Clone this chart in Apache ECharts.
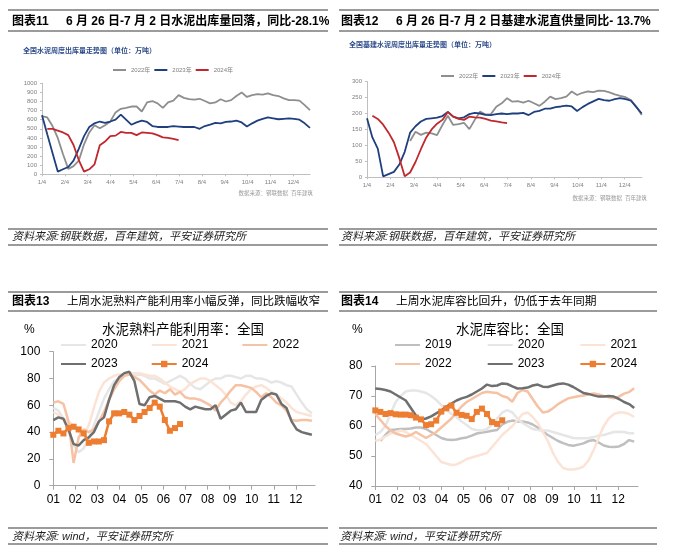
<!DOCTYPE html>
<html><head><meta charset="utf-8">
<script src="https://cdn.jsdelivr.net/npm/echarts@6/dist/echarts.min.js"></script>
<style>html,body{margin:0;padding:0;background:#fff}#c{width:674px;height:553px}</style>
</head><body><div id="c"></div>
<script>
// ---------- data ----------
const WEEK = 7 / 30.44; // one week in month units (x axis is in months)
const monthTicks = [0,1,2,3,4,5,6,7,8,9,10,11];
const dateLabels = ['1/4','2/4','3/4','4/4','5/4','6/4','7/4','8/4','9/4','10/4','11/4','12/4'];
const monthLabels = ['01','02','03','04','05','06','07','08','09','10','11','12'];
const c11YTicks = [0, 1000, 100];
const c12YTicks = [0, 300, 50];
const c13YTicks = [0, 100, 20];
const c14YTicks = [40, 80, 10];

// 图表11 全国水泥周度出库量（万吨）
const c11_2022 = [640,625,530,400,220,60,90,150,330,460,540,505,540,580,680,720,730,745,745,690,790,805,780,730,790,810,870,840,825,820,830,805,780,790,825,800,815,860,900,850,870,880,875,890,870,860,835,815,815,810,760,705];
const c11_2023 = [650,440,235,30,55,80,150,280,420,520,560,580,565,580,600,655,600,545,570,590,575,530,520,520,520,530,525,520,520,520,500,530,545,565,560,575,580,590,570,525,560,590,610,625,615,605,610,615,610,600,560,510];
const c11_2024 = [null,500,500,480,460,430,322,157,30,55,110,320,360,420,425,465,455,455,430,460,455,450,430,405,400,390,375];

// 图表12 全国基建水泥周度出库量（万吨）
const c12_2022 = [null,null,null,null,null,null,null,null,114,143,133,140,138,132,164,193,164,167,171,151,180,206,197,198,221,232,248,237,239,234,240,232,224,237,253,245,248,253,269,258,265,269,267,272,271,266,260,255,251,242,221,195];
const c12_2023 = [185,125,90,3,10,17,40,80,140,160,175,183,185,187,192,205,190,185,188,198,202,200,196,195,198,200,198,200,200,202,195,205,208,215,215,220,222,225,222,208,220,230,238,246,242,240,245,248,245,240,220,200];
const c12_2024 = [null,193,183,165,140,110,60,3,15,48,88,125,150,168,180,205,190,183,180,190,188,187,183,178,175,172,170];

// 图表13 水泥熟料产能利用率：全国（%）
const c13_2020 = [58,56,50,40,30,25,28,35,45,55,65,72,78,80,82,83,82,83,82,80,80,78,76,78,80,82,80,76,73,72,75,78,80,80,82,82,81,80,82,82,80,80,79,77,78,77,75,74,68,62,57,54];
const c13_2021 = [55,53,50,48,45,40,38,45,58,70,77,80,82,83,83,84,84,84,83,82,82,80,77,74,72,70,72,76,78,80,80,78,75,72,68,62,60,63,68,72,74,75,73,70,68,65,62,58,55,54,53,52];
const c13_2022 = [62,63,61,48,17,36,42,40,42,48,55,64,72,78,82,83,81,79,75,71,68,71,69,72,68,70,66,65,65,64,62,60,56,62,66,71,75,75,74,73,70,66,69,66,62,60,56,49,48.5,49,49,48.5];
const c13_2023 = [49,51,50,42,31,30,34,36,40,48,51,64,75,81,84,85,78,61,60,66,67,65,63,63,63,62,59,57,59,58,57,57,60,50,53,56,57,62,55,55,55,64,67,69,68,61,58,48,42,40,39,38];
const c13_2024 = [38,41,39,43,44,42,39,32,33,33,34,48,54,54,55,53,49,52,55,58,62,59,49,41,43,46];

// 图表14 水泥库容比：全国（%）
const c14_2019 = [null,55,57,58.7,58.8,59,59,59.2,59.5,59.5,59,58,57,56,55.5,55.3,55.5,55.9,56.2,56.8,57.5,57.8,58.1,58.4,58.7,60.5,61.4,61.8,61.5,61.5,61.2,60.5,59.5,58.2,57,56,55,54.3,53.7,53.4,53.8,54.2,55,55.3,54.5,53.5,53.1,53,53.2,54,55.3,54.8];
const c14_2020 = [57,58,60,64,68,70,71.5,71.8,71.8,71.5,71,70,68.7,67,65.3,64,63,61.5,60.3,59,58.7,58.5,59,60.5,62.5,64.5,65.3,64.5,62.5,61,60,59,58.7,58.5,58.5,58,57.5,57,56.5,56,55.9,55.9,56,56.3,56.8,57,57.5,58,58.1,58,57.6,57.6];
const c14_2021 = [55,55.5,56.5,57.5,58,58.5,58,57,56,55,54,52,50,48,47.5,47,47.2,48,49,49.5,50,50.5,51,53,55,57,58.5,60,62,64,64.5,63,61,58,55,51,48,46,45.5,45.5,45.8,46.5,48.5,52,56,60,62.5,64,64.5,64.5,64,63];
const c14_2022 = [64,62,60,58.5,57.5,57,56.5,57,58,57,56,57,58,59.5,61,62.5,64.5,66.5,68,69,70,71,71.4,71.2,71,70,69.5,68.1,71,72,71.5,69,66.5,64.5,64.8,65.9,67.3,68.3,69.2,69.6,69.9,70.2,70.5,70.8,70.5,70,69.6,69.2,69.8,70.8,71.3,72.6];
const c14_2023 = [72.5,72.3,72,71.5,70.5,69.5,68.5,66,63.5,62.2,62.5,63.2,64.2,65.2,66.5,67.5,68.5,69.2,69.7,70.5,71.5,72.5,73.8,73.3,73.5,74.2,74,73.2,72.5,72.6,72.8,73.5,73.8,73.1,73,73.5,74,74.2,73.8,73,72,71,70.7,70.2,69.8,69.8,70,69.8,69,68,67.3,66];
const c14_2024 = [65.2,64.7,64.0,64.3,63.9,63.8,63.8,63.6,62.8,62.2,60.3,60.6,61.8,64.8,65.9,66.8,64.4,63.7,63.4,62.3,64.7,65.8,64.0,61.3,60.7,61.9];

// ---------- helpers ----------
const FF = '"Liberation Sans","Noto Sans CJK SC",sans-serif';
const pts = arr => arr.map((v, i) => v == null ? null : [i * WEEK, v]).filter(Boolean);

function xAx(gi, max, labels, fs, color, margin, tickLen, lineColor) {
  return {
    type: 'value', gridIndex: gi, min: 0, max: max,
    axisLine: { show: true, onZero: false, lineStyle: { color: lineColor, width: 1 } },
    axisTick: { show: true, customValues: monthTicks, length: tickLen, lineStyle: { color: lineColor } },
    axisLabel: { customValues: monthTicks, formatter: v => labels[Math.round(v)], fontSize: fs, color: color, margin: margin, fontFamily: FF },
    splitLine: { show: false }
  };
}
function yAx(gi, t, fs, color, margin, tickLen, lineColor) {
  return {
    type: 'value', gridIndex: gi, min: t[0], max: t[1], interval: t[2],
    axisLine: { show: true, lineStyle: { color: lineColor, width: 1 } },
    axisTick: { show: true, length: tickLen, lineStyle: { color: lineColor } },
    axisLabel: { fontSize: fs, color: color, margin: margin, fontFamily: FF, formatter: v => String(v) },
    splitLine: { show: false }
  };
}
function line(name, gi, arr, color, width, extra) {
  return Object.assign({
    name: name, type: 'line', xAxisIndex: gi, yAxisIndex: gi, data: pts(arr),
    symbol: 'none', smooth: false, animation: false,
    lineStyle: { color: color, width: width }, itemStyle: { color: color }
  }, extra || {});
}
const orangeSq = { symbol: 'rect', symbolSize: 6, showSymbol: true, showAllSymbol: true };

// ---------- graphics (headings, rules, sources) ----------
const G = [];
function rule(x1, x2, y) { G.push({ type: 'line', shape: { x1: x1, y1: y, x2: x2, y2: y }, style: { stroke: '#7a7a7a', lineWidth: 1.5 } }); }
function txt(t, x, y, o) {
  G.push({ type: 'text', x: x, y: y, style: Object.assign({ text: t, fontFamily: FF, fontSize: 12, fill: '#000', align: 'left', verticalAlign: 'middle' }, o || {}) });
}
// panel 11
rule(8, 328, 10); rule(8, 328, 31);
txt('图表11', 12, 22, { fontWeight: 'bold' });
txt('6 月 26 日-7 月 2 日水泥出库量回落，同比-28.1%', 66, 22, { fontWeight: 'bold' });
txt('全国水泥周度出库量走势图（单位：万吨）', 23, 51, { fontSize: 7, fontWeight: 'bold', fill: '#2E4C8C' });
txt('数据来源：钢联数据  百年建筑', 313, 193, { fontSize: 5.5, fill: '#9a9a9a', align: 'right' });
rule(8, 328, 229); rule(8, 328, 245);
txt('资料来源:钢联数据，百年建筑，平安证券研究所', 12, 237, { fontSize: 11, fontStyle: 'italic', fill: '#222' });
// panel 12
rule(339, 659, 10); rule(339, 659, 31);
txt('图表12', 341, 22, { fontWeight: 'bold' });
txt('6 月 26 日-7 月 2 日基建水泥直供量同比- 13.7%', 396, 22, { fontWeight: 'bold' });
txt('全国基建水泥周度出库量走势图（单位：万吨）', 349, 45, { fontSize: 7, fontWeight: 'bold', fill: '#2E4C8C' });
txt('数据来源：钢联数据  百年建筑', 647, 198, { fontSize: 5.5, fill: '#9a9a9a', align: 'right' });
rule(339, 657, 229); rule(339, 657, 245);
txt('资料来源:钢联数据，百年建筑，平安证券研究所', 341, 237, { fontSize: 11, fontStyle: 'italic', fill: '#222' });
// panel 13
rule(8, 328, 292); rule(8, 328, 311);
txt('图表13', 12, 302, { fontWeight: 'bold' });
txt('上周水泥熟料产能利用率小幅反弹，同比跌幅收窄', 67, 302, { fontSize: 11.5 });
txt('%', 24, 330, { fontSize: 12 });
txt('水泥熟料产能利用率：全国', 183, 330, { fontSize: 13.5, align: 'center' });
rule(8, 328, 528); rule(8, 328, 544);
txt('资料来源: wind，平安证券研究所', 12, 537, { fontSize: 11, fontStyle: 'italic', fill: '#222' });
// panel 14
rule(339, 657, 292); rule(339, 657, 311);
txt('图表14', 341, 302, { fontWeight: 'bold' });
txt('上周水泥库容比回升，仍低于去年同期', 396, 302, { fontSize: 11.8 });
txt('%', 352, 330, { fontSize: 12 });
txt('水泥库容比：全国', 510, 330, { fontSize: 13.5, align: 'center' });
rule(339, 657, 528); rule(339, 657, 544);
txt('资料来源: wind，平安证券研究所', 340, 537, { fontSize: 11, fontStyle: 'italic', fill: '#222' });

// ---------- colors ----------
const C22 = '#8E8E8E', C23 = '#1F3F7F', C24 = '#C0282E';
const K19 = '#BFBFBF', K20 = '#E6E6E6', K21 = '#FBE3D6', K22 = '#F6C2A4', K23 = '#6F6F6F', K24 = '#ED7D31';

// legend entries: plain line icon (no symbol) unless marked
const plain = n => ({ name: n, itemStyle: { opacity: 0 } });
const smallLegend = (names, left, top) => ({
  data: names.map(plain), left: left, top: top, orient: 'horizontal', itemWidth: 13, itemHeight: 6, itemGap: 3, padding: 0,
  textStyle: { fontSize: 6, color: '#7f7f7f', fontFamily: FF }
});
const bigLegend = (names, left, top, gap) => ({
  data: names.map(n => n === '2024' ? { name: n } : plain(n)), left: left, top: top, orient: 'horizontal', itemWidth: 25, itemHeight: 8, itemGap: gap, padding: 0,
  textStyle: { fontSize: 12, color: '#000', fontFamily: FF }
});

const option = {
  animation: false,
  backgroundColor: '#fff',
  legend: [
    smallLegend(['2022年','2023年','2024年'], 112, 67),
    smallLegend(['2022年','2023年','2024年'], 440, 73),
    bigLegend(['2020','2021','2022'], 60, 339, 33),
    bigLegend(['2023','2024'], 60, 358, 33),
    bigLegend(['2019','2020','2021'], 394, 339, 35),
    bigLegend(['2022','2023','2024'], 394, 358, 35)
  ],
  grid: [
    { left: 42, top: 83.3, width: 268, height: 91 },
    { left: 367, top: 81.6, width: 274.8, height: 95.7 },
    { left: 53.3, top: 351.7, width: 261.7, height: 134 },
    { left: 375.3, top: 366, width: 262.7, height: 120 }
  ],
  xAxis: [
    xAx(0, 11.73, dateLabels, 6, '#7f7f7f', 5, 2, '#BFBFBF'),
    xAx(1, 11.73, dateLabels, 6, '#7f7f7f', 5, 2, '#BFBFBF'),
    xAx(2, 11.87, monthLabels, 12, '#000', 8, 4, '#A6A6A6'),
    xAx(3, 11.9, monthLabels, 12, '#000', 8, 4, '#A6A6A6')
  ],
  yAxis: [
    yAx(0, c11YTicks, 6, '#7f7f7f', 5, 2, '#BFBFBF'),
    yAx(1, c12YTicks, 6, '#7f7f7f', 5, 2, '#BFBFBF'),
    yAx(2, c13YTicks, 12, '#000', 13, 4, '#A6A6A6'),
    yAx(3, c14YTicks, 12, '#000', 13, 4, '#A6A6A6')
  ],
  series: [
    line('2022年', 0, c11_2022, C22, 1.8),
    line('2023年', 0, c11_2023, C23, 1.8),
    line('2024年', 0, c11_2024, C24, 1.8),
    line('2022年', 1, c12_2022, C22, 1.8),
    line('2023年', 1, c12_2023, C23, 1.8),
    line('2024年', 1, c12_2024, C24, 1.8),
    line('2020', 2, c13_2020, K20, 2.5),
    line('2021', 2, c13_2021, K21, 2.5),
    line('2022', 2, c13_2022, K22, 2.5),
    line('2023', 2, c13_2023, K23, 2.5),
    line('2024', 2, c13_2024, K24, 2.5, orangeSq),
    line('2019', 3, c14_2019, K19, 2.5),
    line('2020', 3, c14_2020, K20, 2.5),
    line('2021', 3, c14_2021, K21, 2.5),
    line('2022', 3, c14_2022, K22, 2.5),
    line('2023', 3, c14_2023, K23, 2.5),
    line('2024', 3, c14_2024, K24, 2.5, orangeSq)
  ],
  graphic: { elements: G }
};
const chart = echarts.init(document.getElementById('c'), null, { renderer: 'canvas' });
chart.setOption(option);
</script>
</body></html>
